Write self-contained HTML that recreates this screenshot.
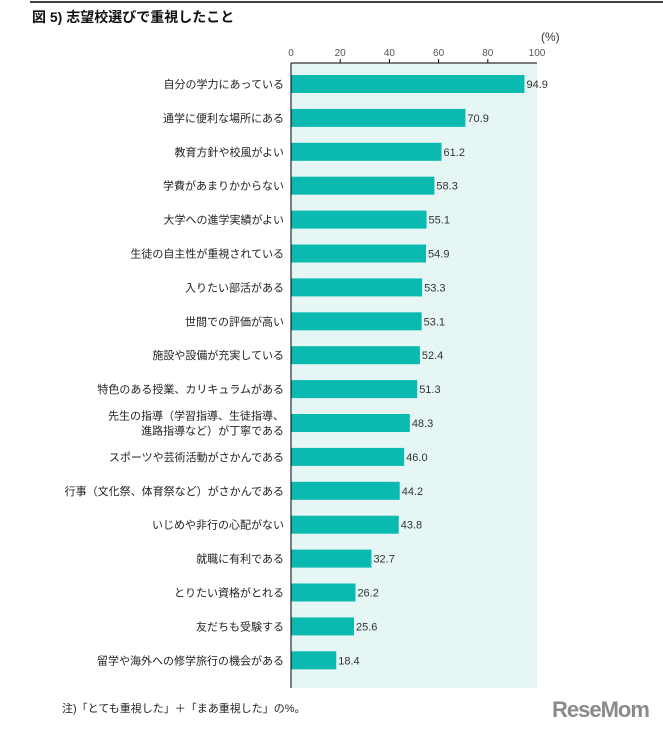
<!DOCTYPE html>
<html><head><meta charset="utf-8"><style>
body{margin:0;background:#fff;width:663px;height:731px;overflow:hidden;font-family:"Liberation Sans","Noto Sans CJK JP",sans-serif;}
</style></head><body>
<svg width="663" height="731" xmlns="http://www.w3.org/2000/svg">
<line x1="30" y1="2" x2="663" y2="2" stroke="#000" stroke-width="1.5"/>
<text x="32" y="22" font-size="14" font-weight="bold" fill="#111">図 5)  志望校選びで重視したこと</text>
<text x="541" y="41" font-size="12" fill="#333">(%)</text>
<rect x="291" y="63" width="246" height="625" fill="#e5f6f5"/>
<g id="ticks"></g>
<g id="bars"></g>
<line x1="291" y1="63" x2="291" y2="688" stroke="#000" stroke-width="1"/>
<line x1="291" y1="63" x2="537" y2="63" stroke="#000" stroke-width="1"/>
<text x="62" y="712" font-size="11" fill="#222">注)「とても重視した」＋「まあ重視した」の%。</text>
<text x="552" y="717" font-size="22" font-weight="bold" fill="#8a8a8a" letter-spacing="-1">ReseMom</text>
</svg>
<script>
const categories=["自分の学力にあっている","通学に便利な場所にある","教育方針や校風がよい","学費があまりかからない","大学への進学実績がよい","生徒の自主性が重視されている","入りたい部活がある","世間での評価が高い","施設や設備が充実している","特色のある授業、カリキュラムがある","先生の指導（学習指導、生徒指導、|進路指導など）が丁寧である","スポーツや芸術活動がさかんである","行事（文化祭、体育祭など）がさかんである","いじめや非行の心配がない","就職に有利である","とりたい資格がとれる","友だちも受験する","留学や海外への修学旅行の機会がある"];
const values=[94.9,70.9,61.2,58.3,55.1,54.9,53.3,53.1,52.4,51.3,48.3,46.0,44.2,43.8,32.7,26.2,25.6,18.4];
const tickValues=[0,20,40,60,80,100];
const NS="http://www.w3.org/2000/svg";
const x=v=>291+v*2.46;
const y=i=>84+i*33.9;
const tg=document.getElementById('ticks'),bg=document.getElementById('bars');
tickValues.forEach(t=>{
 const tx=document.createElementNS(NS,'text');
 tx.setAttribute('x',x(t));tx.setAttribute('y',56);tx.setAttribute('font-size','10');tx.setAttribute('fill','#555');tx.setAttribute('text-anchor','middle');
 tx.textContent=t;
 
 
 tg.appendChild(tx);
 if(t>0&&t<100){const l=document.createElementNS(NS,'line');
 l.setAttribute('x1',x(t));l.setAttribute('x2',x(t));l.setAttribute('y1',59);l.setAttribute('y2',63);l.setAttribute('stroke','#000');
 
 
 tg.appendChild(l);}
});
categories.forEach((c,i)=>{
 const r=document.createElementNS(NS,'rect');
 r.setAttribute('x',x(0));r.setAttribute('y',y(i)-9);r.setAttribute('width',x(values[i])-x(0));r.setAttribute('height',18);r.setAttribute('fill','#0abab0');
 
 
 bg.appendChild(r);
 const v=document.createElementNS(NS,'text');
 v.setAttribute('x',x(values[i])+2);v.setAttribute('y',y(i)+4);v.setAttribute('font-size','11');v.setAttribute('fill','#333');
 v.textContent=values[i].toFixed(1);
 
 
 bg.appendChild(v);
 const parts=c.split('|');
 parts.forEach((p,k)=>{
  const t=document.createElementNS(NS,'text');
  t.setAttribute('x',284);t.setAttribute('y',y(i)+4+(k-(parts.length-1)/2)*15);t.setAttribute('font-size','11');t.setAttribute('fill','#222');t.setAttribute('text-anchor','end');
  t.textContent=p;
  
  
  bg.appendChild(t);
 });
});
</script>
</body></html>
